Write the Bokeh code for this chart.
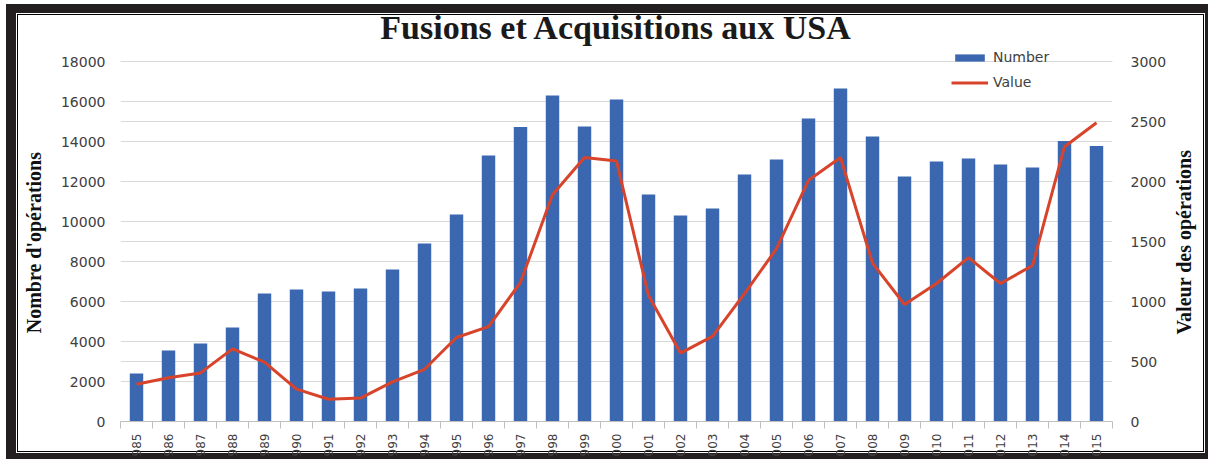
import math
from bokeh.plotting import figure
from bokeh.models import (LinearAxis, Range1d, FixedTicker, Grid, Legend,
                          LegendItem, ColumnDataSource)
from bokeh.embed import file_html
from bokeh.resources import INLINE

# ---- data -------------------------------------------------------------
year_labels = ["985", "986", "987", "988", "989", "990", "991", "992", "993",
               "994", "995", "996", "997", "998", "999", "000", "001", "002",
               "003", "004", "005", "006", "007", "008", "009", "010", "011",
               "012", "013", "014", "015"]
numbers = [2400, 3550, 3900, 4700, 6400, 6600, 6500, 6650, 7600, 8900,
           10350, 13300, 14720, 16300, 14750, 16100, 11350, 10300, 10650,
           12350, 13100, 15150, 16650, 14250, 12250, 13000, 13150, 12850,
           12700, 14020, 13770]
values = [310, 365, 405, 605, 495, 270, 185, 195, 330, 435, 700, 790, 1160,
          1890, 2200, 2170, 1050, 570, 710, 1065, 1440, 2010, 2200, 1320,
          975, 1150, 1365, 1150, 1300, 2290, 2490]
left_ticks = [0, 2000, 4000, 6000, 8000, 10000, 12000, 14000, 16000, 18000]
right_ticks = [0, 500, 1000, 1500, 2000, 2500, 3000]

title_text = "Fusions et Acquisitions aux USA"
left_label = "Nombre d'opérations"
right_label = "Valeur des opérations"
series_names = ["Number", "Value"]

# ---- styles ------------------------------------------------------------
BAR = "#3A67B0"
LINE = "#D8442B"
GRID = "#D9D9D9"
TXT = "#404040"
DARK = "#231f20"

n = len(year_labels)
idx = list(range(n))
src = ColumnDataSource(dict(x=idx, num=numbers, val=values))

# frame headroom above the top gridline so the legend fits inside the frame
LEFT_MAX = 18800
RIGHT_MAX = right_ticks[-1] * LEFT_MAX / left_ticks[-1]

p = figure(width=1208, height=459,
           x_range=Range1d(-0.5, n - 0.5), y_range=Range1d(0, LEFT_MAX),
           x_axis_type=None, y_axis_type=None,
           output_backend="svg", toolbar_location=None,
           min_border_left=120, min_border_right=93,
           min_border_top=45, min_border_bottom=38)
p.extra_y_ranges = {"val": Range1d(0, RIGHT_MAX)}
p.outline_line_color = None
p.background_fill_color = "white"
p.border_fill_color = None

shadow = ", ".join([
    "inset 6px 0 0 0 #fff", "inset 0 4px 0 0 #fff",
    f"inset 16px 0 0 0 {DARK}", f"inset 0 13px 0 0 {DARK}",
    f"inset -3px 0 0 0 {DARK}", f"inset 0 -6px 0 0 {DARK}",
    "inset 17px 0 0 0 #fff", "inset 0 14px 0 0 #fff",
    "inset -4px 0 0 0 #fff", "inset 0 -7px 0 0 #fff",
    "inset 18px 0 0 0 #000", "inset 0 15px 0 0 #000",
    "inset -5px 0 0 0 #000", "inset 0 -8px 0 0 #000",
])
p.styles = {"box-shadow": shadow, "background-color": "white"}

# title
p.title.text = title_text
p.title.align = "center"
p.title.text_font = "Liberation Serif"
p.title.text_font_style = "bold"
p.title.text_font_size = "34px"
p.title.text_color = "#1a1a1a"
p.title.standoff = 0

# grids (both axes' tick sets)
lt = FixedTicker(ticks=left_ticks)
rt = FixedTicker(ticks=right_ticks)
p.add_layout(Grid(dimension=1, ticker=lt, grid_line_color=GRID, grid_line_width=1.2))
p.add_layout(Grid(dimension=1, ticker=rt, y_range_name="val",
                  grid_line_color=GRID, grid_line_width=1.2))

# glyphs
bars = p.vbar(x="x", top="num", width=0.42, source=src,
              fill_color=BAR, line_color=None)
line = p.line(x="x", y="val", source=src, y_range_name="val",
              line_color=LINE, line_width=3)

# x axis
xt = FixedTicker(ticks=idx, minor_ticks=[i - 0.5 for i in range(n + 1)])
xax = LinearAxis(ticker=xt,
                 major_label_overrides={i: year_labels[i] for i in idx},
                 major_label_orientation=math.pi / 2,
                 major_tick_line_color=None, major_tick_out=0, major_tick_in=0,
                 minor_tick_in=0, minor_tick_out=7, minor_tick_line_color="#BFBFBF",
                 axis_line_color="#BFBFBF", axis_line_width=1,
                 major_label_standoff=5,
                 major_label_text_font="DejaVu Sans",
                 major_label_text_font_size="12px",
                 major_label_text_color=TXT)
p.add_layout(xax, "below")


def tick_axis(ticker, range_name, standoff):
    return LinearAxis(y_range_name=range_name, ticker=ticker, axis_line_color=None,
                      major_tick_line_color=None, minor_tick_line_color=None,
                      major_tick_out=0, major_tick_in=0,
                      major_label_standoff=standoff,
                      major_label_text_font="DejaVu Sans",
                      major_label_text_font_size="14px",
                      major_label_text_color=TXT)


def title_axis(label, range_name, anchor, standoff):
    # a single rotated tick label used as the axis title
    return LinearAxis(y_range_name=range_name, ticker=FixedTicker(ticks=[anchor]),
                      major_label_overrides={anchor: label},
                      major_label_orientation=math.pi / 2,
                      axis_line_color=None, major_tick_line_color=None,
                      minor_tick_line_color=None,
                      major_tick_out=0, major_tick_in=0,
                      major_label_standoff=standoff,
                      major_label_text_font="Liberation Serif",
                      major_label_text_font_style="bold",
                      major_label_text_font_size="20px",
                      major_label_text_color="#111111")


# half the rendered title length, in each axis' data units (label placement)
left_half = 4475
right_half = 775
left_mid = (left_ticks[0] + left_ticks[-1]) / 2
right_mid = (right_ticks[0] + right_ticks[-1]) / 2

# left axes: numbers, then title (label's top end sits at its anchor)
p.add_layout(tick_axis(lt, "default", 15), "left")
p.add_layout(title_axis(left_label, "default", left_mid + left_half, 24), "left")

# right axes: values, then title (label's bottom end sits at its anchor)
p.add_layout(tick_axis(rt, "val", 18), "right")
p.add_layout(title_axis(right_label, "val", right_mid - right_half, 14), "right")

legend = Legend(items=[LegendItem(label=series_names[0], renderers=[bars]),
                       LegendItem(label=series_names[1], renderers=[line])],
                location=(831, 329), orientation="vertical",
                glyph_width=37, glyph_height=9, label_height=20, spacing=5,
                padding=0, margin=0, label_standoff=5,
                border_line_color=None, background_fill_alpha=0,
                label_text_font="DejaVu Sans", label_text_font_size="14px",
                label_text_color=TXT)
p.add_layout(legend)

open("out.html", "w").write(file_html(p, INLINE))
